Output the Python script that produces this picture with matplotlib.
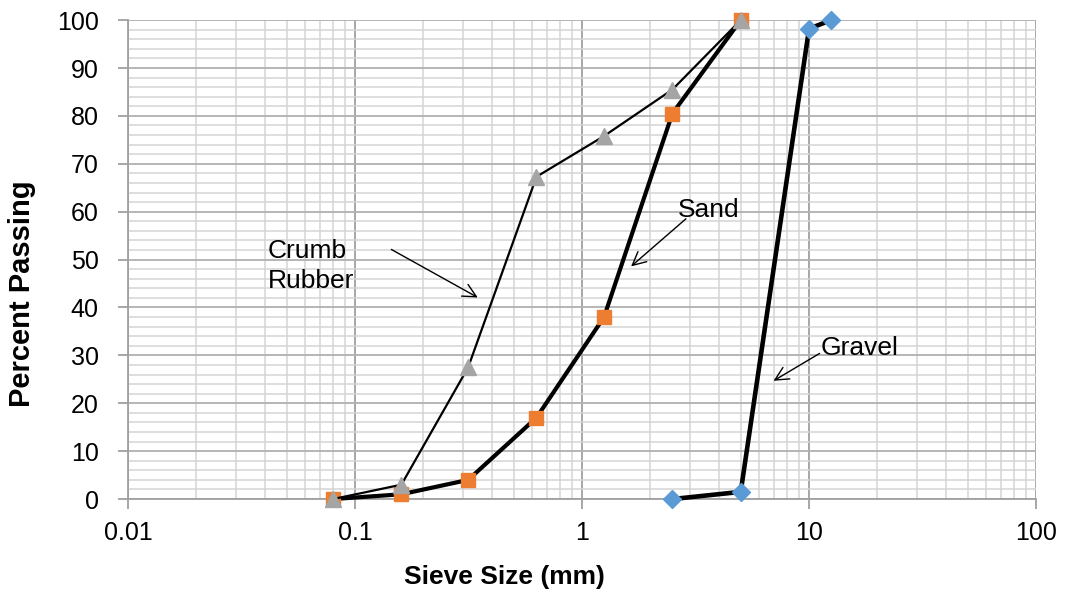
import matplotlib
matplotlib.use("Agg")
import matplotlib.pyplot as plt
from matplotlib.ticker import LogLocator, MultipleLocator, FixedLocator, NullFormatter

plt.rcParams['font.family'] = ['Liberation Sans', 'DejaVu Sans']

# Data
sieve_fine = [0.08, 0.16, 0.315, 0.63, 1.25, 2.5, 5]
crumb_rubber = [0, 3, 27.5, 67.3, 75.8, 85.5, 100]
sand = [0, 1, 4, 17, 38, 80.5, 100]
sieve_gravel = [2.5, 5, 10, 12.5]
gravel = [0, 1.5, 98.2, 100]

x_ticks = [0.01, 0.1, 1, 10, 100]
x_tick_labels = ["0.01", "0.1", "1", "10", "100"]
y_ticks = list(range(0, 101, 10))

fig = plt.figure(figsize=(10.67, 5.92), dpi=100)
ax = fig.add_axes([0.12, 0.157, 0.851, 0.809])

ax.set_xscale('log')
ax.set_xlim(0.01, 100)
ax.set_ylim(0, 100)

# Grid
ax.xaxis.set_major_locator(FixedLocator(x_ticks))
ax.xaxis.set_minor_locator(LogLocator(base=10, subs=range(2, 10), numticks=20))
ax.xaxis.set_minor_formatter(NullFormatter())
ax.set_xticklabels(x_tick_labels)
ax.yaxis.set_major_locator(FixedLocator(y_ticks))
ax.yaxis.set_minor_locator(MultipleLocator(2))
ax.grid(which='minor', color='#D4D4D4', linewidth=1.1)
ax.grid(which='major', axis='y', color='#B0B0B0', linewidth=1.3)
ax.grid(which='major', axis='x', color='#A0A0A0', linewidth=1.3)
ax.set_axisbelow(True)

for s in ['top', 'right']:
    ax.spines[s].set_visible(False)
ax.spines['left'].set_color('#A0A0A0')
ax.spines['bottom'].set_color('#A0A0A0')
ax.spines['left'].set_linewidth(1.3)
ax.spines['bottom'].set_linewidth(1.3)

ax.tick_params(which='major', axis='both', color='#A0A0A0', length=7, width=1.3,
               labelsize=18)
ax.tick_params(which='major', axis='y', pad=14)
ax.tick_params(which='major', axis='x', pad=9)
ax.tick_params(which='minor', length=0)

# Series
ax.plot(sieve_gravel, gravel, color='black', linewidth=3.3, marker='D',
        markersize=9, markerfacecolor='#5B9BD5', markeredgecolor='#5B9BD5',
        zorder=3, clip_on=False)
ax.plot(sieve_fine, sand, color='black', linewidth=3.0, marker='s',
        markersize=10.5, markerfacecolor='#ED7D31', markeredgecolor='#ED7D31',
        zorder=4, clip_on=False)
ax.plot(sieve_fine, crumb_rubber, color='black', linewidth=1.6, marker='^',
        markersize=11, markerfacecolor='#A5A5A5', markeredgecolor='#A5A5A5',
        zorder=5, clip_on=False)

ax.set_xlabel('Sieve Size (mm)', fontsize=19, fontweight='bold', labelpad=14, x=0.415)
ax.set_ylabel('Percent Passing', fontsize=21, fontweight='bold', labelpad=15, y=0.428)

# Annotations
arrow = dict(arrowstyle='->', color='black', linewidth=1.0, mutation_scale=24)
ax.text(0.0414, 48.6, 'Crumb\nRubber', fontsize=19, ha='left', va='center',
        linespacing=1.3, zorder=6)
ax.annotate('', xy=(0.356, 41.8), xytext=(0.141, 52.4), arrowprops=arrow, zorder=6)
ax.text(2.65, 60.3, 'Sand', fontsize=19, ha='left', va='center', zorder=6)
ax.annotate('', xy=(1.61, 48.2), xytext=(2.93, 58.9), arrowprops=arrow, zorder=6)
ax.text(11.2, 31.5, 'Gravel', fontsize=19, ha='left', va='center', zorder=6)
ax.annotate('', xy=(6.81, 24.4), xytext=(11.4, 30.7), arrowprops=arrow, zorder=6)

fig.savefig('out.png', dpi=100)
